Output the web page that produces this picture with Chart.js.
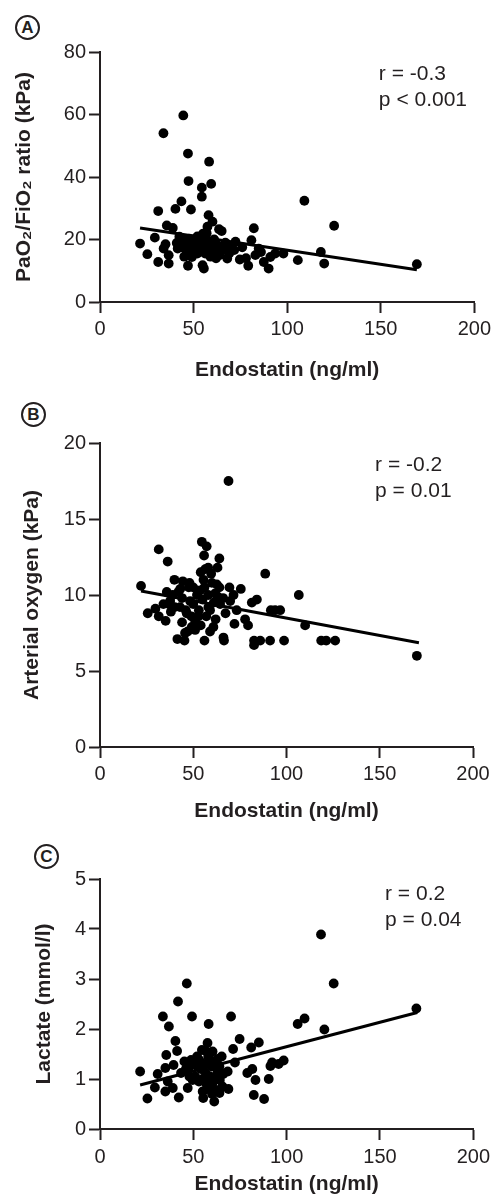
<!DOCTYPE html>
<html>
<head>
<meta charset="utf-8">
<script src="https://cdn.jsdelivr.net/npm/chart.js@4.4.1/dist/chart.umd.min.js"></script>
<style>
  body { margin: 0; background: #fff; width: 495px; height: 1197px; position: relative; overflow: hidden; font-family: "Liberation Sans", Arial, sans-serif; }
  canvas { position: absolute; left: 0; }
  .tag { position: absolute; width: 21px; height: 21px; border: 2px solid #231f20; border-radius: 50%; font-weight: bold; font-size: 17px; line-height: 21px; text-align: center; color: #231f20; }
</style>
</head>
<body>
<div class="tag" style="left:15px;top:15px">A</div>
<div class="tag" style="left:21px;top:402px">B</div>
<div class="tag" style="left:34px;top:844px">C</div>
<canvas id="chartA" width="495" height="390" style="top:0"></canvas>
<canvas id="chartB" width="495" height="435" style="top:390px"></canvas>
<canvas id="chartC" width="495" height="372" style="top:825px"></canvas>
<script>
// Panel A: PaO2/FiO2 ratio vs endostatin
const endostatinA = [21.4, 25.3, 29.3, 31.1, 31.1, 33.9, 35, 34, 35.7, 36.7, 36.7, 38.9, 40.3, 41, 41.5, 43.5,
  44.5, 42.4, 45, 46, 47, 47, 47.3, 48.6, 49.1, 47.7, 49.5, 51.2, 54.4, 54.4, 55.5, 54.8, 55.1, 56.2, 57.4,
  58, 58.3, 59.4, 60.1, 61, 63.6, 65, 65.4, 68, 71.7, 72.4, 74.7, 79.2, 80.9, 82.2, 83, 84.8, 87.5, 90.1,
  91, 93.6, 98, 105.7, 109.2, 118, 119.8, 125.1, 169.3,
  44, 46, 48, 50, 51, 52, 53, 54, 55, 56, 57, 58, 59, 60, 61, 62, 63, 64, 66, 67, 69, 70, 52, 57, 47, 45,
  62, 68, 76, 78, 86];
const pfRatioA = [18.7, 15.3, 20.6, 29.1, 12.8, 54.0, 18.5, 17.1, 24.5, 15.0, 12.3, 23.7, 29.8, 18.9, 17.1, 32.2,
  59.7, 20.9, 19.8, 16.6, 11.6, 47.5, 38.7, 29.6, 14.4, 20.3, 18.7, 17.6, 36.6, 33.7, 10.7, 11.8, 21.9, 15.5, 24.1,
  27.8, 44.9, 37.8, 25.7, 15.0, 23.3, 22.7, 16.6, 13.9, 16.6, 19.3, 13.6, 11.6, 19.8, 23.6, 15.0, 17.1, 12.8, 10.7,
  14.4, 15.5, 15.5, 13.4, 32.4, 16.0, 12.3, 24.4, 12.1,
  17.5, 19.5, 16, 20, 18.5, 15.5, 19, 17, 20.5, 18, 16.5, 19.5, 14.5, 17.5, 20, 16, 18, 15, 17, 19, 15.5, 17.5,
  21, 22, 18, 14.5, 14, 16.5, 17.5, 14, 16];
const fitA = [[21.4, 23.7], [169.3, 10.3]];
const statsA = ['r = -0.3', 'p < 0.001'];

// Panel B: arterial oxygen vs endostatin
const endostatinB = [22, 25.6, 29.7, 31.5, 31.5, 36.3, 35.8, 35.2, 34, 37.6, 39, 39.9, 41.5, 42.9, 44.4, 45.3,
  45.6, 46.5, 47.6, 48.3, 49.2, 51, 52.8, 53.7, 54.6, 55.5, 55.8, 56, 56.4, 57.2, 58.1, 59, 59.6, 60.8, 61.7,
  62.6, 63, 64, 64.4, 66.2, 66.5, 67.3, 68.9, 69.4, 69.8, 71.6, 72.1, 73.3, 75.5, 77.8, 79.4, 81.4, 82.6, 82.6,
  84.1, 85.9, 88.6, 91.2, 91.6, 93.9, 96.6, 98.7, 106.6, 110, 118.6, 121.3, 126.1, 169.9,
  40, 42, 44, 46, 48, 50, 51, 52, 53, 54, 55, 56, 57, 58, 59, 60, 61, 62, 63, 38, 44, 49, 47, 58, 64, 66, 54,
  50, 43, 37];
const oxygenB = [10.6, 8.8, 9.1, 13.0, 8.6, 12.2, 10.2, 8.3, 9.4, 9.6, 10.0, 11.0, 7.1, 9.2, 10.9, 7.0,
  7.5, 8.8, 10.5, 9.6, 7.9, 7.7, 8.6, 10.3, 13.5, 11.0, 12.6, 7.0, 11.7, 13.2, 9.2, 7.6, 11.4, 7.9, 10.1,
  10.7, 11.8, 12.4, 9.4, 7.2, 7.0, 8.8, 17.5, 10.5, 9.6, 10.0, 8.1, 9.0, 10.4, 8.4, 8.0, 9.5, 7.0, 6.7,
  9.7, 7.0, 11.4, 7.0, 9.0, 9.0, 9.0, 7.0, 10.0, 8.0, 7.0, 7.0, 7.0, 6.0,
  9.2, 10.2, 9.8, 9.0, 10.8, 9.4, 8.3, 10.0, 9.0, 8.0, 9.7, 10.5, 8.6, 10.0, 9.0, 10.8, 9.5, 8.4, 9.9, 8.9,
  8.2, 8.6, 7.6, 11.8, 10.5, 9.8, 11.5, 10.5, 10.4, 9.4];
const fitB = [[22, 10.26], [171, 6.86]];
const statsB = ['r = -0.2', 'p = 0.01'];

// Panel C: lactate vs endostatin
const endostatinC = [21.5, 25.4, 30.9, 29.4, 33.7, 35.5, 35, 35, 36.9, 36.3, 39, 39.4, 40.4, 41.3, 41.8, 42.2,
  43.4, 45.2, 46.5, 47, 47.9, 48.8, 49.3, 49.6, 52.3, 53.2, 54.6, 55, 55.3, 56.7, 57.6, 58.2, 58.9, 60.3, 60.3,
  61.2, 62.1, 63, 64.2, 65.2, 65.6, 68.8, 68.4, 70.2, 71.3, 72.3, 74.8, 78.9, 81, 81.6, 82.4, 83.3, 85.1, 87.9,
  90.4, 91.3, 92.2, 95.7, 98.4, 105.9, 109.6, 118.4, 120.2, 125.2, 169.5,
  46, 48, 50, 51, 53, 54, 56, 57, 58, 59, 60, 61, 62, 63, 64, 66, 58, 55, 52, 60, 64, 57];
const lactateC = [1.15, 0.61, 1.10, 0.83, 2.25, 1.48, 1.22, 0.75, 2.05, 0.95, 0.82, 1.28, 1.76, 1.56, 2.55, 0.63,
  1.12, 1.35, 2.91, 0.82, 1.05, 1.38, 2.25, 0.98, 1.25, 1.38, 1.58, 0.75, 0.62, 1.12, 1.72, 2.10, 1.38, 1.55, 0.92,
  0.55, 0.78, 1.12, 0.98, 1.45, 0.85, 0.80, 1.15, 2.25, 1.60, 1.33, 1.80, 1.12, 1.63, 1.20, 0.68, 0.98, 1.73, 0.60,
  1.00, 1.26, 1.33, 1.30, 1.37, 2.10, 2.21, 3.89, 1.99, 2.91, 2.41,
  1.2, 1.25, 1.3, 1.05, 0.95, 1.2, 1.3, 0.9, 1.45, 1.05, 1.25, 1.35, 1.0, 1.4, 1.25, 1.1, 0.8, 1.0, 1.45, 0.7,
  0.72, 1.55];
const fitC = [[21.5, 0.88], [170, 2.33]];
const statsC = ['r = 0.2', 'p = 0.04'];

const INK = '#231f20';
const FONT = '"Liberation Sans", Arial, Helvetica, sans-serif';

const statsPlugin = {
  id: 'stats',
  afterDraw(chart, args, opts) {
    const { ctx, scales: { x, y } } = chart;
    ctx.save();
    ctx.font = '21px ' + FONT;
    ctx.fillStyle = INK;
    ctx.textBaseline = 'middle';
    opts.lines.forEach((t, i) => {
      ctx.fillText(t, x.getPixelForValue(opts.x), y.getPixelForValue(opts.y) + i * 26);
    });
    ctx.restore();
  }
};

function toPoints(xs, ys) {
  return xs.map((v, i) => ({ x: v, y: ys[i] }));
}

function axisStyle() {
  return {
    grid: { display: true, drawOnChartArea: false, drawTicks: true, tickLength: 11, tickWidth: 2, tickColor: INK },
    border: { display: true, width: 2, color: INK }
  };
}

function makeChart(id, cfg) {
  return new Chart(document.getElementById(id), {
    type: 'scatter',
    data: {
      datasets: [{
        data: toPoints(cfg.xs, cfg.ys),
        backgroundColor: '#000',
        borderWidth: 0,
        pointRadius: 4.9,
        pointHoverRadius: 4.9
      }, {
        data: cfg.fit.map(p => ({ x: p[0], y: p[1] })),
        showLine: true,
        borderColor: '#000',
        borderWidth: 3,
        pointRadius: 0,
        borderCapStyle: 'butt'
      }]
    },
    options: {
      responsive: false,
      animation: false,
      layout: { padding: { top: cfg.top, right: cfg.right, left: 0, bottom: 0 } },
      plugins: {
        legend: { display: false },
        tooltip: { enabled: false },
        stats: { lines: cfg.stats, x: cfg.statsX, y: cfg.statsY }
      },
      scales: {
        x: {
          type: 'linear', min: 0, max: 200,
          ...axisStyle(),
          ticks: { stepSize: 50, color: INK, padding: cfg.xTickPad, font: { family: FONT, size: 20 } },
          title: { display: true, text: 'Endostatin (ng/ml)', color: INK,
            font: { family: FONT, size: 21, weight: 'bold' }, padding: { top: 0, bottom: cfg.xTitlePad } },
          afterFit: s => { s.height = cfg.xHeight; }
        },
        y: {
          type: 'linear', min: 0, max: cfg.yMax,
          ...axisStyle(),
          ticks: { stepSize: cfg.yStep, color: INK, padding: 3, font: { family: FONT, size: 20 } },
          title: { display: true, text: cfg.yTitle, color: INK,
            font: { family: FONT, size: 21, weight: 'bold' }, padding: { top: cfg.yTitlePad, bottom: 0 } },
          afterFit: s => { s.width = 100; }
        }
      }
    },
    plugins: [statsPlugin]
  });
}

makeChart('chartA', {
  xs: endostatinA, ys: pfRatioA, fit: fitA, stats: statsA, statsX: 149, statsY: 73,
  top: 52, right: 18, xHeight: 88, xTickPad: 4, xTitlePad: 7,
  yMax: 80, yStep: 20, yTitle: 'PaO\u2082/FiO\u2082 ratio (kPa)', yTitlePad: 12
});

makeChart('chartB', {
  xs: endostatinB, ys: oxygenB, fit: fitB, stats: statsB, statsX: 147.5, statsY: 18.55,
  top: 53, right: 22, xHeight: 78, xTickPad: 4, xTitlePad: 1,
  yMax: 20, yStep: 5, yTitle: 'Arterial oxygen (kPa)', yTitlePad: 20
});

makeChart('chartC', {
  xs: endostatinC, ys: lactateC, fit: fitC, stats: statsC, statsX: 152.7, statsY: 4.7,
  top: 54, right: 19, xHeight: 68, xTickPad: 5, xTitlePad: 0,
  yMax: 5, yStep: 1, yTitle: 'Lactate (mmol/l)', yTitlePad: 32
});
</script>
</body>
</html>
